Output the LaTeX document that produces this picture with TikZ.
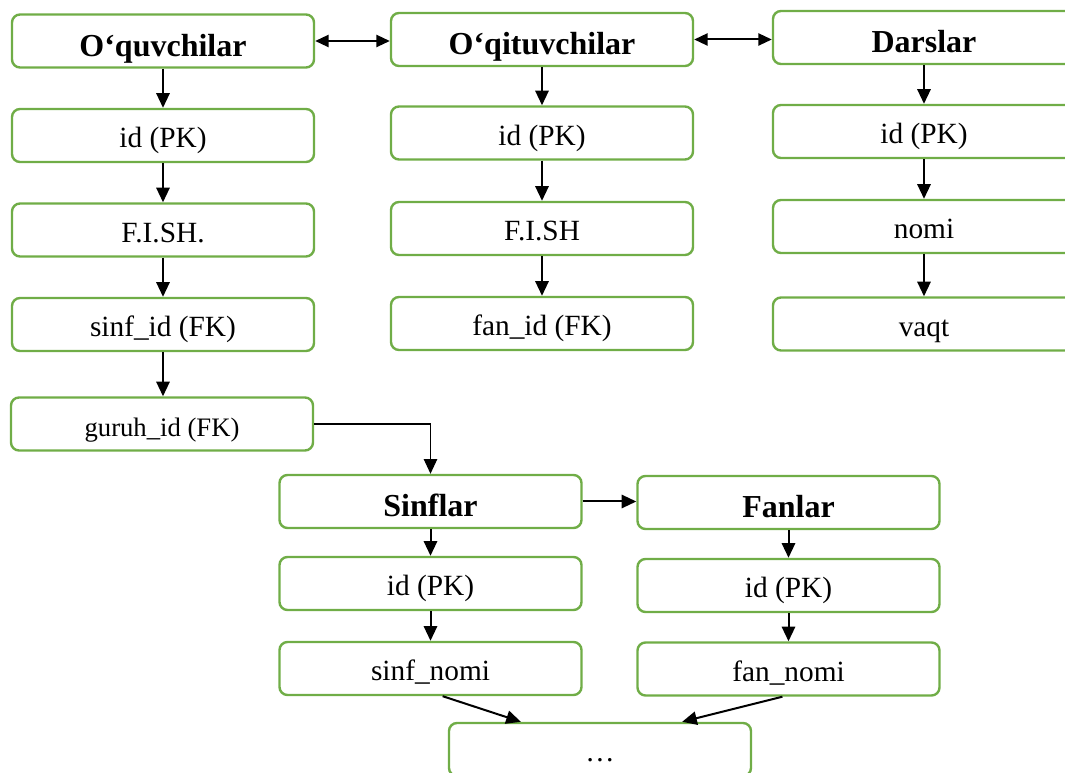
\documentclass[tikz,border=0pt]{standalone}
\usepackage{fontspec}
\setmainfont{Liberation Serif}
\usetikzlibrary{arrows.meta,calc}
\definecolor{boxgreen}{RGB}{112,173,71}
\tikzset{
	tbox/.style={draw=boxgreen, line width=1.8pt, rounded corners=6pt, inner sep=0pt,
		minimum width=226.5pt, minimum height=39.75pt},
	thead/.style={tbox, font=\bfseries\fontsize{24}{24}\selectfont, text height=26pt, text depth=3pt},
	tfield/.style={tbox, font=\fontsize{22}{22}\selectfont, text height=21pt, text depth=2.5pt},
	arr/.style={-{Triangle[length=11pt,width=10pt]}, line width=1.5pt},
	darr/.style={{Triangle[length=10pt,width=9pt]}-{Triangle[length=10pt,width=9pt]}, line width=1.5pt}
}
\begin{document}
\begin{tikzpicture}[x=0.75pt,y=0.75pt,yscale=-1,xscale=1]
			\useasboundingbox (0,0) rectangle (1065,773);
			%Table: O'quvchilar
			\node [thead] (oq) at (163,41) {O‘quvchilar};
			\node [tfield] (oqid) at (163,135.5) {id (PK)};
			\node [tfield] (oqfish) at (163,230) {F.I.SH.};
			\node [tfield] (oqsinf) at (163,324.5) {sinf\_id (FK)};
			\node [tfield, font=\fontsize{20}{20}\selectfont] (oqguruh) at (162,424) {guruh\_id (FK)};
			%Table: O'qituvchilar
			\node [thead] (oqit) at (542,39.5) {O‘qituvchilar};
			\node [tfield] (oqitid) at (542,133) {id (PK)};
			\node [tfield] (oqitfish) at (542,228.5) {F.I.SH};
			\node [tfield] (oqitfan) at (542,323.5) {fan\_id (FK)};
			%Table: Darslar
			\node [thead] (dars) at (924,37.5) {Darslar};
			\node [tfield] (darsid) at (924,131.5) {id (PK)};
			\node [tfield] (darsnomi) at (924,226.5) {nomi};
			\node [tfield] (darsvaqt) at (924,324) {vaqt};
			%Table: Sinflar
			\node [thead] (sinf) at (430.5,501.5) {Sinflar};
			\node [tfield] (sinfid) at (430.5,583.5) {id (PK)};
			\node [tfield] (sinfnomi) at (430.5,668.5) {sinf\_nomi};
			%Table: Fanlar
			\node [thead] (fan) at (788.5,502.5) {Fanlar};
			\node [tfield] (fanid) at (788.5,585.5) {id (PK)};
			\node [tfield] (fannomi) at (788.5,669) {fan\_nomi};
			%Shape: Rectangle
			\node [tfield] (etc) at (600,749.5) {…};
			%Straight Lines
			\draw [darr] (oq.east) -- (oq.east -| oqit.west);
			\draw [darr] (oqit.east) -- (oqit.east -| dars.west);
			\draw [arr] (sinf.east) -- (sinf.east -| fan.west);
			%Straight Lines
			\draw [arr] (oq) -- (oqid);
			\draw [arr] (oqid) -- (oqfish);
			\draw [arr] (oqfish) -- (oqsinf);
			\draw [arr] (oqsinf) -- (oqguruh.north -| oqsinf.south);
			\draw [arr] (oqit) -- (oqitid);
			\draw [arr] (oqitid) -- (oqitfish);
			\draw [arr] (oqitfish) -- (oqitfan);
			\draw [arr] (dars) -- (darsid);
			\draw [arr] (darsid) -- (darsnomi);
			\draw [arr] (darsnomi) -- (darsvaqt);
			\draw [arr] (sinf) -- (sinfid);
			\draw [arr] (sinfid) -- (sinfnomi);
			\draw [arr] (fan) -- (fanid);
			\draw [arr] (fanid) -- (fannomi);
			%Connector
			\draw [arr, line width=0.9pt] (oqguruh.east) -| (sinf.north);
			\draw [arr] ($(sinfnomi.south west)!0.54!(sinfnomi.south east)$) -- ($(etc.north west)!0.24!(etc.north east)$);
			\draw [arr] ($(fannomi.south west)!0.48!(fannomi.south east)$) -- ($(etc.north west)!0.77!(etc.north east)$);
		\end{tikzpicture}
\end{document}
